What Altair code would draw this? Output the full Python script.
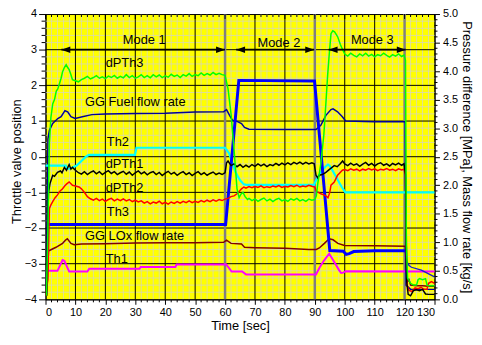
import altair as alt
import numpy as np
import pandas as pd

# ---------------- data (time [s], value in left-axis units) ----------------
DPTH3 = [(0.3,-3.9),(0.8,-2.0),(1.3,0.4),(1.8,1.1),(2.4,1.48),(3.0,1.6),(3.6,1.84),(4.1,1.9),(4.6,2.03),
         (5.2,2.2),(5.7,2.38),(6.3,2.5),(6.9,2.58),(7.4,2.5),(7.9,2.44),(8.5,2.3),(9.0,2.16),(10,2.13),
         (11,2.1),(12,2.16),(13,2.2),(14,2.25),(15,2.18),(16,2.22),(17,2.27),(18,2.2),(19,2.24),(20,2.19),
         (21,2.26),(22,2.22),(23,2.28),(24,2.2),(25,2.25),(26,2.21),(27,2.3),(28,2.22),(29,2.27),(30,2.2),
         (31,2.24),(32,2.3),(33,2.22),(34,2.27),(35,2.21),(36,2.3),(37,2.24),(38,2.29),(39,2.22),(40,2.27),
         (41,2.23),(42,2.31),(43,2.25),(44,2.29),(45,2.22),(46,2.3),(47,2.26),(48,2.33),(49,2.25),(50,2.3),
         (51,2.27),(52,2.35),(53,2.28),(54,2.33),(55,2.29),(56,2.36),(57,2.3),(58,2.34),(59,2.3),(60,2.28),
         (61,1.9),(62,1.2),(63,0.2),(64,-0.9),(64.7,-1.15),(65.3,-1.05),(66,-1.0),(66.7,-1.12),(67.5,-1.2),
         (68,-1.17),(69,-1.23),(70,-1.18),(71,-1.25),(72,-1.2),(73,-1.16),(74,-1.24),(75,-1.19),(76,-1.26),
         (77,-1.2),(78,-1.17),(79,-1.24),(80,-1.2),(81,-1.25),(82,-1.18),(83,-1.22),(84,-1.17),(85,-1.24),
         (86,-1.2),(87,-1.25),(88,-1.19),(89,-1.22),(90,-1.2),(90.5,-1.1),(91,-0.75),(92,-0.2),(93,0.6),
         (93.7,1.5),(94.3,2.3),(94.8,2.85),(95.4,3.45),(96,3.53),(96.6,3.5),(97.2,3.42),(97.7,3.35),
         (98.5,3.15),(99.3,3.0),(100,2.88),(101,2.82),(102,2.9),(103,2.84),(104,2.8),(105,2.88),(106,2.83),
         (107,2.9),(108,2.82),(109,2.87),(110,2.8),(111,2.86),(112,2.83),(113,2.9),(114,2.84),(115,2.79),
         (116,2.86),(117,2.82),(118,2.88),(119,2.81),(119.8,2.85),(120.3,2.7),(120.6,-2.5),(121,-3.4),
         (122,-3.55),(123,-3.6),(124,-3.6),(124.5,-3.45),(125,-3.42),(126,-3.45),(127,-3.42),(127.5,-3.6),
         (128,-3.62),(130,-3.62)]

DPTH1 = [(0.3,-3.9),(0.7,-2.0),(1.0,-1.0),(1.5,-0.75),(2.4,-0.52),(3,-0.55),(4,-0.44),(5,-0.4),(5.5,-0.45),
         (6.3,-0.3),(7,-0.38),(7.9,-0.22),(8.5,-0.35),(9,-0.3),(10,-0.38),(11,-0.45),(12,-0.49),(13,-0.42),
         (14,-0.5),(15,-0.44),(16,-0.4),(17,-0.48),(18,-0.42),(19,-0.5),(20,-0.44),(21,-0.39),(22,-0.47),
         (23,-0.42),(24,-0.5),(25,-0.45),(26,-0.41),(27,-0.49),(28,-0.43),(29,-0.52),(30,-0.45),(31,-0.4),
         (32,-0.48),(33,-0.43),(34,-0.51),(35,-0.45),(36,-0.42),(37,-0.5),(38,-0.44),(39,-0.53),(40,-0.46),
         (41,-0.41),(42,-0.49),(43,-0.44),(44,-0.52),(45,-0.46),(46,-0.42),(47,-0.5),(48,-0.45),(49,-0.53),
         (50,-0.47),(51,-0.42),(52,-0.5),(53,-0.45),(54,-0.52),(55,-0.47),(56,-0.43),(57,-0.5),(58,-0.46),
         (59,-0.5),(60,-0.45),(60.5,-0.17),(61,-0.12),(62,-0.25),(63,-0.2),(64,-0.28),(65,-0.22),(66,-0.3),
         (67,-0.24),(68,-0.29),(69,-0.22),(70,-0.27),(71,-0.2),(72,-0.26),(73,-0.21),(74,-0.28),(75,-0.22),
         (76,-0.25),(77,-0.19),(78,-0.24),(79,-0.18),(80,-0.23),(81,-0.17),(82,-0.22),(83,-0.16),(84,-0.2),
         (85,-0.15),(86,-0.21),(87,-0.16),(88,-0.2),(89,-0.17),(89.8,-0.2),(90.4,-0.52),(91,-0.6),(91.5,-0.52),
         (92.5,-0.5),(93.7,-0.44),(95,-0.35),(96.5,-0.25),(97.5,-0.28),(98.5,-0.2),(99.3,-0.12),(100,-0.2),
         (101,-0.25),(102,-0.18),(103,-0.24),(104,-0.2),(105,-0.27),(106,-0.21),(107,-0.16),(108,-0.24),
         (109,-0.19),(110,-0.26),(111,-0.2),(112,-0.17),(113,-0.24),(114,-0.2),(115,-0.26),(116,-0.19),
         (117,-0.23),(118,-0.18),(119,-0.24),(119.8,-0.2),(120.3,-0.5),(120.7,-3.5),(121.2,-3.86),(122,-3.9),
         (123,-3.75),(124,-3.73),(125,-3.76),(126,-3.72),(127,-3.85),(128,-3.86),(130,-3.86)]

DPTH2 = [(0.1,-3.9),(0.5,-3.6),(0.8,-3.45),(1.3,-1.45),(1.8,-1.35),(2.4,-1.26),(3.2,-1.15),(4,-1.07),
         (4.8,-0.97),(5.7,-0.9),(6.4,-0.82),(7,-0.77),(7.9,-0.71),(8.5,-0.76),(9,-0.8),(10,-0.82),(11.2,-0.85),
         (12,-0.9),(12.9,-0.99),(14,-1.12),(15,-1.18),(16,-1.22),(17,-1.17),(18,-1.23),(19,-1.19),(20,-1.25),
         (21,-1.2),(22,-1.17),(23,-1.24),(24,-1.19),(25,-1.23),(26,-1.18),(27,-1.24),(28,-1.2),(29,-1.26),
         (30,-1.22),(31,-1.27),(32,-1.24),(33,-1.3),(34,-1.26),(35,-1.32),(36,-1.27),(37,-1.3),(38,-1.25),
         (39,-1.32),(40,-1.28),(41,-1.33),(42,-1.27),(43,-1.31),(44,-1.26),(45,-1.3),(46,-1.25),(47,-1.29),
         (48,-1.24),(49,-1.29),(50,-1.25),(51,-1.28),(52,-1.23),(53,-1.27),(54,-1.22),(55,-1.26),(56,-1.21),
         (57,-1.25),(58,-1.2),(59,-1.23),(60,-1.19),(61,-1.17),(62,-1.12),(63,-1.1),(64,-1.04),(65,-0.95),
         (65.5,-0.9),(66.3,-0.85),(67,-0.88),(68,-0.84),(69,-0.87),(70,-0.83),(71,-0.86),(72,-0.82),(73,-0.87),
         (74,-0.84),(75,-0.86),(76,-0.82),(77,-0.85),(78,-0.81),(79,-0.86),(80,-0.83),(81,-0.85),(82,-0.81),
         (83,-0.84),(84,-0.8),(85,-0.85),(86,-0.82),(87,-0.84),(88,-0.8),(89,-0.83),(90,-0.85),(90.5,-0.97),
         (91.2,-1.0),(92,-1.04),(93,-1.07),(93.7,-1.1),(94.4,-1.15),(95,-1.0),(95.4,-0.8),(96.5,-0.71),
         (97.6,-0.52),(98.4,-0.45),(99.2,-0.38),(100,-0.36),(101,-0.39),(102,-0.34),(103,-0.38),(104,-0.35),
         (105,-0.4),(106,-0.35),(107,-0.38),(108,-0.33),(109,-0.37),(110,-0.34),(111,-0.39),(112,-0.35),
         (113,-0.37),(114,-0.33),(115,-0.38),(116,-0.35),(117,-0.39),(118,-0.34),(119,-0.37),(119.8,-0.35),
         (120.3,-0.5),(120.8,-3.59),(121.5,-3.75),(122.5,-3.78),(123.5,-3.68),(124.5,-3.7),(125.5,-3.66),
         (126.5,-3.72),(127.5,-3.72),(128,-3.55),(129,-3.5),(130,-3.55)]

TH2 = [(0,-0.25),(6.8,-0.25),(7.3,-0.34),(8.2,-0.33),(9,-0.3),(10.4,-0.25),(12,-0.12),(13.5,0.0),(14.5,0.05),
       (29.9,0.05),(30.4,0.25),(60,0.25),(61.3,0.1),(62.4,-0.16),(63.5,-0.44),(65,-0.66),(66.2,-0.77),(67,-0.79),
       (89.7,-0.79),(90.5,-0.65),(91.5,-0.5),(92.5,-0.38),(93.5,-0.28),(94.4,-0.22),(95,-0.26),(96,-0.4),
       (97,-0.55),(98,-0.7),(99,-0.85),(100.2,-1.0),(130,-1.0)]

TH3 = [(0.6,-1.9),(60.2,-1.9),(64.6,2.14),(89.9,2.12),(95,-2.63),(99.5,-2.65),(100.5,-2.74),(101.5,-2.72),
       (103,-2.66),(110,-2.64),(120.2,-2.64)]
TH3_TAIL = [(120.2,-2.64),(120.8,-2.95),(121.5,-3.05),(122.3,-3.1),(125.6,-3.18),(130,-3.37)]

GGFUEL = [(0.3,-3.9),(0.8,0.5),(1.3,0.74),(2.4,0.93),(4.1,1.07),(5.2,1.12),(6.5,1.29),(7.4,1.26),(8.5,1.12),
          (9.9,1.07),(12.3,1.12),(15.5,1.18),(20,1.2),(30,1.21),(40,1.22),(50,1.25),(59.5,1.26),(60.5,1.32),
          (61.5,1.16),(62.5,1.02),(64,0.99),(65.5,0.93),(66.5,0.82),(68,0.77),(80,0.76),(90.4,0.76),(92,0.88),
          (93.7,1.16),(95.4,1.32),(96.1,1.34),(97.6,1.26),(99.2,1.12),(100.3,1.0),(110,0.98),(120.2,0.98),
          (120.5,-3.6),(122,-3.72),(130,-3.72)]

GGLOX = [(0.4,-3.9),(0.8,-3.0),(1.0,-2.65),(1.3,-2.63),(3.5,-2.54),(5.7,-2.43),(6.8,-2.33),(7.3,-2.3),
         (8.5,-2.43),(9.6,-2.47),(12,-2.45),(20,-2.44),(30,-2.42),(40,-2.41),(50,-2.41),(59.5,-2.4),
         (60.5,-2.34),(62,-2.43),(65.5,-2.45),(66.5,-2.54),(70,-2.55),(80,-2.57),(88,-2.6),(90.5,-2.6),
         (91.5,-2.56),(93.2,-2.43),(94.8,-2.3),(96.1,-2.33),(97.7,-2.43),(99.9,-2.49),(110,-2.5),(120.2,-2.51),
         (120.6,-3.2),(121,-3.5),(121.5,-3.45),(122,-3.6),(124,-3.62),(126,-3.62),(128,-3.63),(130,-3.63)]

TH1 = [(1.0,-3.2),(4,-3.2),(5.7,-2.9),(6.3,-2.92),(7.9,-3.22),(14,-3.22),(14.6,-3.14),(31.4,-3.14),
       (31.8,-3.09),(43.4,-3.09),(43.8,-3.02),(60.4,-3.02),(62.2,-3.22),(65.7,-3.22),(67,-3.3),(90.4,-3.3),
       (91.5,-3.12),(93,-2.92),(94.8,-2.72),(96.5,-2.95),(98.1,-3.18),(98.8,-3.26),(99.5,-3.25),
       (100.3,-3.21),(130,-3.22)]

# series: name, points, colour, width (drawing order)
SERIES = [
    ("Th1", TH1, "#ff00ff", 2.0),
    ("GG LOx", GGLOX, "#800000", 1.5),
    ("GG Fuel", GGFUEL, "#00009a", 1.5),
    ("Th2", TH2, "#00ffff", 2.2),
    ("Th3", TH3, "#0000ff", 3.0),
    ("Th3 tail", TH3_TAIL, "#1a1ad0", 1.3),
    ("dPTh2", DPTH2, "#ff0000", 1.5),
    ("dPTh1", DPTH1, "#000000", 1.5),
    ("dPTh3", DPTH3, "#00ff00", 1.5),
]

LABELS = ["dPTh3", "GG Fuel flow rate", "Th2", "dPTh1", "dPTh2", "Th3", "GG LOx flow rate", "Th1"]
LABEL_T = [20.1, 13.2, 20.5, 20.1, 20.1, 20.5, 13.2, 20.1]
LABEL_V = [2.63, 1.53, 0.41, -0.22, -0.88, -1.56, -2.22, -2.88]

MODES = ["Mode 1", "Mode 2", "Mode 3"]
MODE_START = [5.3, 63.7, 94.6]
MODE_END = [60.0, 89.8, 120.4]
MODE_Y = [3.0, 3.0, 3.0]
MODE_TEXT_T = [33.0, 78.0, 109.2]
MODE_TEXT_V = [3.26, 3.18, 3.26]
MODE_LINES = [60, 90, 120]

X_TICKS = list(range(0, 131, 10))
Y_TICKS = list(range(-4, 5))
R_TICKS = [0.0, 0.5, 1.0, 1.5, 2.0, 2.5, 3.0, 3.5, 4.0, 4.5, 5.0]

# ---------------- chart ----------------
W, H = 394, 289
FONT = "Liberation Sans"
xs = alt.Scale(domain=[0, 130], nice=False, zero=False)
ys = alt.Scale(domain=[-4, 4], nice=False, zero=False)
XAXIS = alt.Axis(values=X_TICKS, title="Time [sec]", tickSize=5, labelPadding=2, titlePadding=3,
                 grid=False, orient="bottom")


def X(f="t"):
    return alt.X(f"{f}:Q", scale=xs, axis=XAXIS)


def Y(f="v"):
    return alt.Y(f"{f}:Q", scale=ys, axis=None)


minor_x = [t for t in range(0, 131, 2) if t % 10]
minor_y = [round(v, 2) for v in np.arange(-4, 4.001, 0.2) if abs(v - round(v)) > 1e-6]
right_minor = [round(-4 + r * 1.6, 3) for r in np.arange(0, 5.001, 0.1)
               if abs(r * 2 - round(r * 2)) > 1e-6]

layers = []
axis_df = pd.DataFrame({"t": [0, 130], "v": [-4, 4]})
layers.append(alt.Chart(axis_df).mark_point(opacity=0).encode(
    x=X(),
    y=alt.Y("v:Q", scale=ys, axis=alt.Axis(values=Y_TICKS, title="Throttle valve position", tickSize=7,
                                            labelPadding=2, grid=False, orient="left",
                                            titleX=-29, titleY=149, titleBaseline="middle",
                                            titleAlign="center", titleAngle=270))))

layers.append(alt.Chart(pd.DataFrame({"t": minor_x})).mark_rule(color="#d2d2d2", strokeWidth=0.7).encode(x=X()))
layers.append(alt.Chart(pd.DataFrame({"v": minor_y})).mark_rule(color="#d2d2d2", strokeWidth=0.7).encode(y=Y()))
layers.append(alt.Chart(pd.DataFrame({"t": [t for t in X_TICKS[1:-1] if t not in MODE_LINES]}))
              .mark_rule(color="black", strokeWidth=1).encode(x=X()))
layers.append(alt.Chart(pd.DataFrame({"v": Y_TICKS[1:-1]})).mark_rule(color="black", strokeWidth=1).encode(y=Y()))
layers.append(alt.Chart(pd.DataFrame({"t": MODE_LINES})).mark_rule(color="#808080", strokeWidth=2.5).encode(x=X()))

for name, pts, col, w in SERIES:
    df = pd.DataFrame(pts, columns=["t", "v"])
    df["o"] = range(len(df))
    layers.append(alt.Chart(df).mark_line(color=col, strokeWidth=w, interpolate="linear")
                  .encode(x=X(), y=Y(), order="o:Q"))

mode_df = pd.DataFrame({"m": MODES, "t": MODE_START, "t2": MODE_END, "v": MODE_Y,
                        "tt": MODE_TEXT_T, "tv": MODE_TEXT_V})
layers.append(alt.Chart(mode_df).mark_rule(color="black", strokeWidth=1.8)
              .encode(x=X("t"), x2="t2:Q", y=Y()))
layers.append(alt.Chart(mode_df).mark_point(shape="M0,0L1,-0.36L1,0.36Z", filled=True, size=330,
                                            color="black", opacity=1).encode(x=X("t"), y=Y()))
layers.append(alt.Chart(mode_df).mark_point(shape="M0,0L-1,-0.36L-1,0.36Z", filled=True, size=330,
                                            color="black", opacity=1).encode(x=X("t2"), y=Y()))
layers.append(alt.Chart(mode_df).mark_text(font=FONT, fontSize=13, color="black", align="center",
                                           baseline="middle").encode(x=X("tt"), y=Y("tv"), text="m:N"))

lab_df = pd.DataFrame({"s": LABELS, "t": LABEL_T, "v": LABEL_V})
layers.append(alt.Chart(lab_df).mark_text(font=FONT, fontSize=13, color="black", align="left",
                                          baseline="middle").encode(x=X(), y=Y(), text="s:N"))

# minor ticks
layers.append(alt.Chart(pd.DataFrame({"t": minor_x})).mark_rule(color="black")
              .encode(x=X(), y=alt.value(H), y2=alt.value(H + 3)))
layers.append(alt.Chart(pd.DataFrame({"t": minor_x})).mark_rule(color="black")
              .encode(x=X(), y=alt.value(0), y2=alt.value(3)))
layers.append(alt.Chart(pd.DataFrame({"t": X_TICKS})).mark_rule(color="black")
              .encode(x=X(), y=alt.value(0), y2=alt.value(5)))
layers.append(alt.Chart(pd.DataFrame({"v": minor_y})).mark_rule(color="black")
              .encode(y=Y(), x=alt.value(-4), x2=alt.value(0)))
layers.append(alt.Chart(pd.DataFrame({"v": right_minor})).mark_rule(color="black")
              .encode(y=Y(), x=alt.value(W), x2=alt.value(W + 3)))

right_df = pd.DataFrame({"t": [0, 130], "r": [0, 5]})
layers.append(alt.Chart(right_df).mark_point(opacity=0).encode(
    x=X(),
    y=alt.Y("r:Q", scale=alt.Scale(domain=[0, 5], nice=False, zero=False),
            axis=alt.Axis(orient="right", values=R_TICKS, format=".1f", tickSize=5, labelPadding=3,
                          title="Pressure difference [MPa], Mass flow rate [kg/s]", titlePadding=2,
                          grid=False))))

chart = alt.layer(*layers).resolve_scale(y="independent").properties(
    width=W, height=H,
    padding={"left": 38, "top": 4, "right": 40, "bottom": 35},
    autosize=alt.AutoSizeParams(type="none"),
).configure_view(fill="#ffff00", stroke="black", strokeWidth=1).configure_axis(
    labelFont=FONT, labelFontSize=11, labelColor="black", titleFont=FONT, titleFontSize=13,
    titleFontWeight="normal", titleColor="black", domainColor="black", tickColor="black",
    domainWidth=1, tickWidth=1, grid=False,
)

chart.save("out.html", embed_options={"renderer": "svg", "actions": False})
